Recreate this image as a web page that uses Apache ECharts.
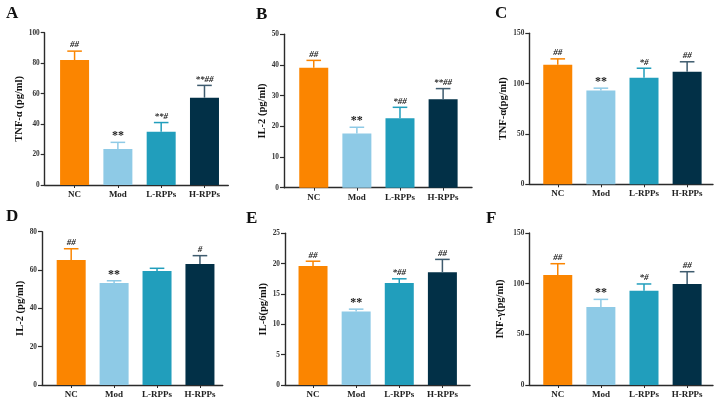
<!DOCTYPE html>
<html><head><meta charset="utf-8">
<script src="https://cdn.jsdelivr.net/npm/echarts@6/dist/echarts.min.js"></script>
<style>html,body{margin:0;padding:0;background:#fff}#c{width:723px;height:409px}</style>
</head><body><div id="c"></div>
<script>
const categories = ['NC', 'Mod', 'L-RPPs', 'H-RPPs'];
const colors = ['#FB8500', '#8ECAE6', '#219EBC', '#023047'];
const errColors = ['#FB8500', '#8ECAE6', '#219EBC', '#3E5B6E'];

const tnfA1_mean = [82, 23.6, 35, 57.3];
const tnfA1_err = [5.9, 4.4, 6, 8.1];
const tnfA1_sig = ['##', '**', '**#', '**##'];

const il2B_mean = [39.1, 17.7, 22.6, 28.8];
const il2B_err = [2.4, 2.0, 3.6, 3.5];
const il2B_sig = ['##', '**', '*##', '**##'];

const tnfC_mean = [118.7, 93.3, 105.8, 111.8];
const tnfC_err = [5.9, 2.2, 9.5, 9.9];
const tnfC_sig = ['##', '**', '*#', '##'];

const il2D_mean = [65.2, 53.2, 59.5, 63.1];
const il2D_err = [5.9, 1.2, 1.4, 4.4];
const il2D_sig = ['##', '**', '', '#'];

const il6E_mean = [19.6, 12.1, 16.8, 18.6];
const il6E_err = [0.8, 0.4, 0.7, 2.1];
const il6E_sig = ['##', '**', '*##', '##'];

const infF_mean = [108.6, 77, 93.1, 99.7];
const infF_err = [11.1, 7.5, 6.6, 12.1];
const infF_sig = ['##', '**', '*#', '##'];

const panelLetters = ['A', 'B', 'C', 'D', 'E', 'F'];
const yNames = ['TNF-α (pg/ml)', 'IL-2 (pg/ml)', 'TNF-α(pg/ml)', 'IL-2 (pg/ml)', 'IL-6(pg/ml)', 'INF-γ(pg/ml)'];
const yMax = [100, 50, 150, 80, 25, 150];
const yStep = [20, 10, 50, 20, 5, 50];

const means = [tnfA1_mean, il2B_mean, tnfC_mean, il2D_mean, il6E_mean, infF_mean];
const errs = [tnfA1_err, il2B_err, tnfC_err, il2D_err, il6E_err, infF_err];
const sigs = [tnfA1_sig, il2B_sig, tnfC_sig, il2D_sig, il6E_sig, infF_sig];

// layout (pixels)
const layout = [
  {left: 44.7, top: 32.7, width: 183.6, height: 152.3, xmin: -0.69, xmax: 3.55, gap: 20, lx: 6, ly: 5},
  {left: 284, top: 34.3, width: 188, height: 153.4, xmin: -0.69, xmax: 3.67, gap: 15.5, lx: 256, ly: 6},
  {left: 529.3, top: 33.3, width: 183.7, height: 151, xmin: -0.66, xmax: 3.6, gap: 20.5, lx: 495, ly: 5},
  {left: 42, top: 231.7, width: 180.7, height: 153.3, xmin: -0.68, xmax: 3.53, gap: 15.5, lx: 6, ly: 208},
  {left: 285, top: 233.3, width: 185, height: 151.7, xmin: -0.65, xmax: 3.64, gap: 16.5, lx: 246, ly: 210},
  {left: 529.3, top: 233, width: 183.7, height: 152, xmin: -0.66, xmax: 3.6, gap: 24, lx: 486, ly: 210}
];

const serif = '"Liberation Serif","Times New Roman",serif';
const axisColor = '#2b2b2b';

const option = {
  backgroundColor: '#fff',
  animation: false,
  title: [], grid: [], xAxis: [], yAxis: [], series: []
};

layout.forEach((L, i) => {
  option.title.push({
    text: panelLetters[i], left: L.lx, top: L.ly, padding: 0,
    textStyle: {fontFamily: serif, fontSize: 17, fontWeight: 'bold', color: '#111'}
  });
  option.grid.push({left: L.left, top: L.top, width: L.width, height: L.height});
  option.xAxis.push({
    type: 'value', gridIndex: i, min: L.xmin, max: L.xmax,
    splitLine: {show: false},
    axisLine: {show: true, onZero: false, lineStyle: {color: axisColor, width: 1.4}},
    axisTick: {show: true, customValues: [0, 1, 2, 3], length: 3, lineStyle: {color: axisColor, width: 1}},
    axisLabel: {
      customValues: [0, 1, 2, 3],
      formatter: v => categories[Math.round(v)] || '',
      fontFamily: serif, fontWeight: 'bold', fontSize: 9, color: '#222', margin: 5
    }
  });
  option.yAxis.push({
    type: 'value', gridIndex: i, min: 0, max: yMax[i], interval: yStep[i],
    position: 'left',
    name: yNames[i], nameLocation: 'middle', nameGap: L.gap, nameRotate: 90,
    nameTextStyle: {fontFamily: serif, fontWeight: 'bold', fontSize: 10.5, color: '#111'},
    splitLine: {show: false},
    axisLine: {show: true, onZero: false, lineStyle: {color: axisColor, width: 1.4}},
    axisTick: {show: true, inside: false, length: 4, lineStyle: {color: axisColor, width: 1.2}},
    axisLabel: {fontFamily: serif, fontWeight: 'bold', fontSize: 7.3, color: '#333', margin: 5}
  });
  option.series.push({
    type: 'bar', xAxisIndex: i, yAxisIndex: i, barWidth: 29,
    data: means[i].map((m, k) => ({value: [k, m], itemStyle: {color: colors[k]}}))
  });
  option.series.push({
    type: 'custom', xAxisIndex: i, yAxisIndex: i, z: 5,
    data: means[i].map((m, k) => [k, m, errs[i][k]]),
    renderItem: (params, api) => {
      const k = params.dataIndex;
      const x = api.value(0), m = api.value(1), e = api.value(2);
      const pTop = api.coord([x, m]);
      const pCap = api.coord([x, m + e]);
      const hw = 7.3;
      const col = errColors[k];
      const s = sigs[i][k];
      const big = (s === '**');
      return {
        type: 'group',
        children: [
          {type: 'line', shape: {x1: pTop[0], y1: pTop[1], x2: pCap[0], y2: pCap[1]}, style: {stroke: col, lineWidth: 1.5}},
          {type: 'line', shape: {x1: pCap[0] - hw, y1: pCap[1], x2: pCap[0] + hw, y2: pCap[1]}, style: {stroke: col, lineWidth: 1.5}},
          {type: 'text', x: pCap[0], y: pCap[1] - (big ? 0 : 1.5),
           style: {text: s, align: 'center', verticalAlign: 'bottom',
                   font: (big ? 'bold 12px ' : 'italic bold 9px ') + serif, fill: '#1a1a1a'}}
        ]
      };
    }
  });
});

const chart = echarts.init(document.getElementById('c'), null, {renderer: 'canvas'});
chart.setOption(option);
</script>
</body></html>
